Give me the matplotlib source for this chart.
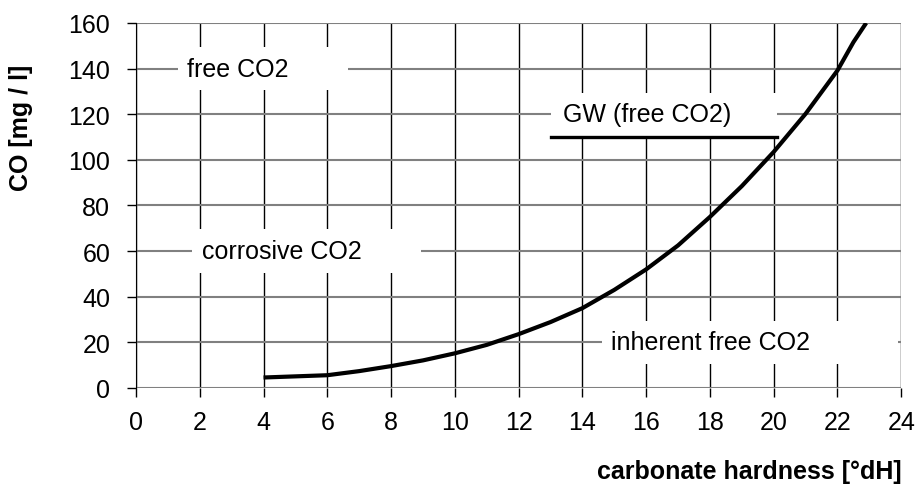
import numpy as np
import matplotlib.pyplot as plt
from matplotlib.patches import Rectangle

# --- donnees ---
durete = [4, 5, 6, 7, 8, 9, 10, 11, 12, 13, 14, 15, 16, 17, 18, 19, 20,
          21, 22, 22.5, 22.9]
co2 = [4.6, 5.1, 5.6, 7.4, 9.6, 12.1, 15.2, 18.9, 23.6, 28.9, 35, 43, 52,
       62.5, 75, 88.5, 103.5, 120.2, 139.2, 151.6, 160]

gw_x = [13.0, 20.1]
gw_y = [110, 110]

# etiquettes : texte, x du texte, y, debut et fin du fond blanc
etiquettes = [
    ("free CO2",          1.6,  140, 1.31, 6.66),
    ("GW (free CO2)",     13.4, 120, 13.03, 20.1),
    ("corrosive CO2",     2.06, 60,  1.75, 8.94),
    ("inherent free CO2", 14.9, 20,  14.6, 23.9),
]

plt.rcParams['font.family'] = ['Liberation Sans', 'DejaVu Sans']
plt.rcParams['font.size'] = 18

fig = plt.figure(figsize=(9.15, 4.89), dpi=100)
ax = fig.add_axes([0.1486, 0.2045, 0.985 - 0.1486, 0.951 - 0.2045])

ax.set_xlim(0, 24)
ax.set_ylim(0, 160)
ax.set_xticks(np.arange(0, 25, 2))
ax.set_yticks(np.arange(0, 161, 20))

# grille : verticales noires, horizontales grises
for xv in np.arange(0, 25, 2):
    ax.axvline(xv, color='black', linewidth=1.0, zorder=1)
for yv in np.arange(0, 161, 20):
    ax.axhline(yv, color='#808080', linewidth=1.5, zorder=1)

for s in ['top', 'right', 'bottom']:
    ax.spines[s].set_visible(False)
ax.spines['left'].set_color('black')
ax.spines['left'].set_zorder(3)

ax.tick_params(direction='out', length=6.5, width=1)
ax.tick_params(axis='y', pad=12)
ax.tick_params(axis='x', pad=9)

# fonds blancs des etiquettes
for txt, tx, ty, x0, x1 in etiquettes:
    ax.add_patch(Rectangle((x0, ty - 9.5), x1 - x0, 19, facecolor='white',
                           edgecolor='none', zorder=2))
    ax.text(tx, ty, txt, ha='left', va='center', zorder=4)

ax.plot(durete, co2, color='black', linewidth=3.0, zorder=5,
        solid_capstyle='butt', solid_joinstyle='round')
ax.plot(gw_x, gw_y, color='black', linewidth=2.4, zorder=5)

ax.set_xlabel('carbonate hardness [°dH]', fontweight='bold', ha='right')
ax.xaxis.set_label_coords(1.0, -0.195)
ax.set_ylabel('CO [mg / l]', fontweight='bold')
ax.yaxis.set_label_coords(-0.134, 0.715)

plt.savefig('out.png', dpi=100)
